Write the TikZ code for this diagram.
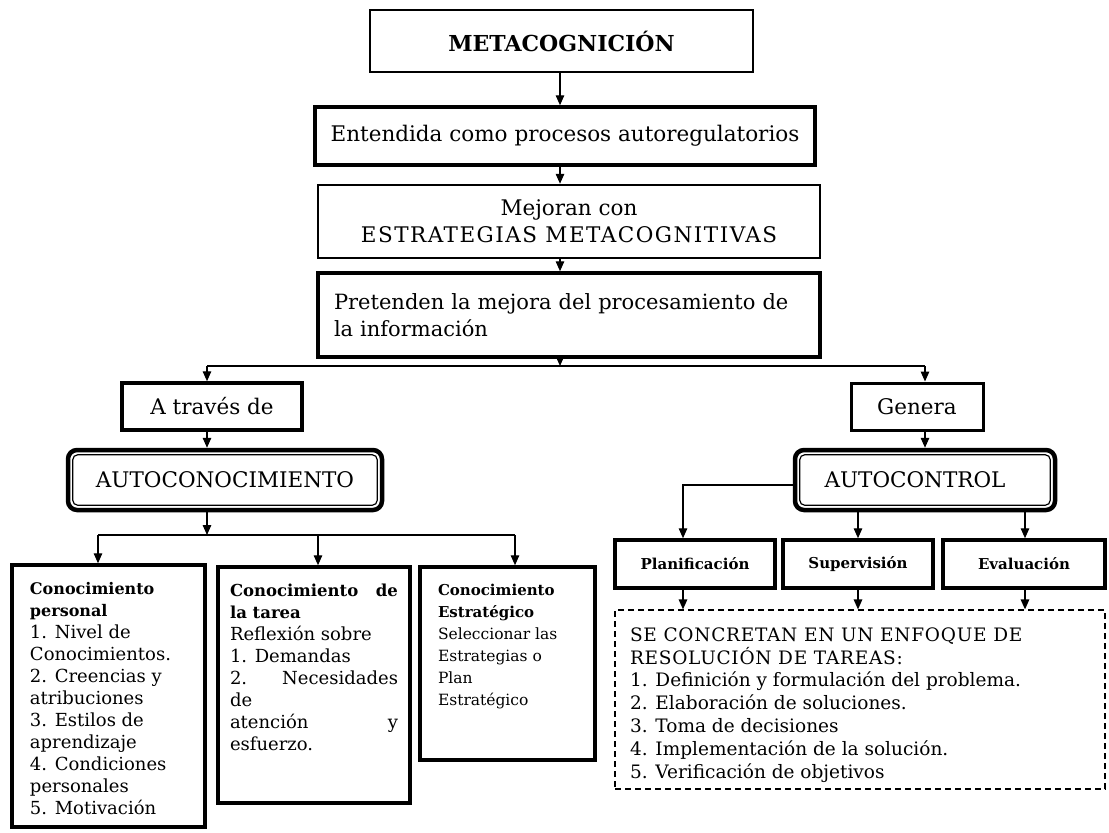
\documentclass[tikz,border=0pt]{standalone}
\usepackage{fontspec}
\setmainfont{DejaVu Serif}
\usetikzlibrary{arrows.meta}
\newcommand\fsz[2]{\fontsize{#1}{#2}\selectfont}
\newcommand\boxtxt[4]{\parbox[c][#2][t]{#1}{\vspace*{#3}\raggedright #4}}
\newcommand\spaced[2]{{\addfontfeatures{LetterSpace=#1}#2}}
\begin{document}
\begin{tikzpicture}[x=1pt,y=-1pt,
  bx/.style={draw, line width=3.5pt, inner sep=0pt, align=center},
  arr/.style={line width=1.4pt, -{Triangle[length=10pt,width=8.5pt]}},
  ln/.style={line width=1.4pt},
  dbl/.style={draw, line width=4.5pt, rounded corners=9pt, inner sep=0pt},
  inner/.style={line width=1.2pt, rounded corners=5pt},
  mainfont/.style={font=\fsz{21.5}{27}},
  smallbold/.style={font=\bfseries\fsz{15}{18}}
]
\path[fill=white, use as bounding box] (0,0) rectangle (1109,833);

% central column
\node[bx, line width=1.6pt, minimum width=383pt, minimum height=62pt, font=\bfseries\fsz{22}{26}] (meta) at (561.5,41) {METACOGNICIÓN};
\node[bx, minimum width=500pt, minimum height=58pt, mainfont] (ent) at (565,136) {Entendida como procesos autoregulatorios};
\node[bx, line width=2.5pt, minimum width=502pt, minimum height=73pt, font=\fsz{21.5}{27}] (mej) at (569,221.5) {Mejoran con\\\spaced{7}{ESTRATEGIAS METACOGNITIVAS}};
\node[bx, minimum width=502pt, minimum height=84pt, text width=470pt, align=left, font=\fsz{21}{27}] (pre) at (569,315) {Pretenden la mejora del procesamiento de\\la información};

\coordinate (cx) at (560,0);
\draw[arr] (meta.south -| cx) -- (ent.north -| cx);
\draw[arr] (ent.south -| cx) -- (mej.north -| cx);
\draw[arr] (mej.south -| cx) -- (pre.north -| cx);

\coordinate (jc) at (560,366);
\coordinate (jl) at (207,366);
\coordinate (jr) at (925,366);
\draw[ln] (jl) -- (jr);
\draw[arr] (pre.south -| jc) -- (jc);

% left branch
\node[bx, minimum width=180pt, minimum height=47pt, mainfont] (atr) at (212,406.5) {A través de};
\node[dbl, minimum width=314pt, minimum height=60pt, mainfont] (autoc) at (225,480) {AUTOCONOCIMIENTO};
\draw[inner] ([shift={(7pt,-7pt)}]autoc.north west) rectangle ([shift={(-7pt,7pt)}]autoc.south east);
\draw[arr] (jl) -- (atr.north -| jl);
\draw[arr] (atr.south -| jl) -- (autoc.north -| jl);

\node[bx, inner xsep=18pt] (b1) at (108.5,696)
  {\boxtxt{157pt}{262pt}{17pt}{\fsz{18}{22}\textbf{\fsz{16}{22}Conocimiento}\\
   \textbf{\fsz{16}{22}personal}\\ 1. Nivel de\\ Conocimientos.\\ 2. Creencias y\\
   atribuciones\\ 3. Estilos de\\ aprendizaje\\ 4. Condiciones\\ personales\\ 5. Motivación}};
\node[bx, inner xsep=12pt] (b2) at (314,685)
  {\boxtxt{168pt}{236pt}{17pt}{\fsz{18}{22}\textbf{\fsz{16.5}{22}Conocimiento\hfill de}\\
   \textbf{\fsz{16.5}{22}la tarea}\\ Reflexión sobre\\ 1. Demandas\\ 2.\hfill Necesidades\\
   de\\ atención\hfill y\\ esfuerzo.}};
\node[bx, inner xsep=18pt] (b3) at (507.5,663.5)
  {\boxtxt{139pt}{193pt}{17pt}{\fsz{15.5}{22}\textbf{\fsz{15}{22}Conocimiento}\\
   \textbf{\fsz{15}{22}Estratégico}\\ Seleccionar las\\ Estrategias o\\ Plan\\ Estratégico}};

\coordinate (k) at (207,535);
\coordinate (k1) at (98,535);
\coordinate (k2) at (318,535);
\coordinate (k3) at (515,535);
\draw[arr] (autoc.south -| k) -- (k);
\draw[ln] (k1) -- (k3);
\draw[arr] (k1) -- (b1.north -| k1);
\draw[arr] (k2) -- (b2.north -| k2);
\draw[arr] (k3) -- (b3.north -| k3);

% right branch
\node[bx, line width=3pt, minimum width=132pt, minimum height=47pt, mainfont] (gen) at (917,406.5) {Genera};
\node[dbl, minimum width=260pt, minimum height=60pt, mainfont] (actl) at (925,480) {AUTOCONTROL\hspace*{20pt}};
\draw[inner] ([shift={(7pt,-7pt)}]actl.north west) rectangle ([shift={(-7pt,7pt)}]actl.south east);
\draw[arr] (jr) -- (gen.north -| jr);
\draw[arr] (gen.south -| jr) -- (actl.north -| jr);

\node[bx, minimum width=160pt, minimum height=48pt, smallbold] (plan) at (695,564) {Planificación};
\node[bx, minimum width=150pt, minimum height=48pt, smallbold] (sup) at (858,564) {Supervisión};
\node[bx, minimum width=162pt, minimum height=48pt, smallbold] (eva) at (1024,564) {Evaluación};

\coordinate (a1) at (683,485);
\coordinate (a2) at (858,0);
\coordinate (a3) at (1025,0);
\draw[arr] (actl.west |- a1) -- (a1) -- (plan.north -| a1);
\draw[arr] (actl.south -| a2) -- (sup.north -| a2);
\draw[arr] (actl.south -| a3) -- (eva.north -| a3);

\node[draw, line width=1.2pt, dash pattern=on 6pt off 4pt, inner xsep=15pt, inner ysep=0pt] (dbox) at (860,699.5)
  {\boxtxt{460pt}{179pt}{17.5pt}{\fsz{18.5}{22.8}\spaced{4}{SE CONCRETAN EN UN ENFOQUE DE}\\
   \spaced{4}{RESOLUCIÓN DE TAREAS:}\\ 1. Definición y formulación del problema.\\
   2. Elaboración de soluciones.\\ 3. Toma de decisiones\\
   4. Implementación de la solución.\\ 5. Verificación de objetivos}};

\draw[arr] (plan.south -| a1) -- (dbox.north -| a1);
\draw[arr] (sup.south -| a2) -- (dbox.north -| a2);
\draw[arr] (eva.south -| a3) -- (dbox.north -| a3);
\end{tikzpicture}
\end{document}
